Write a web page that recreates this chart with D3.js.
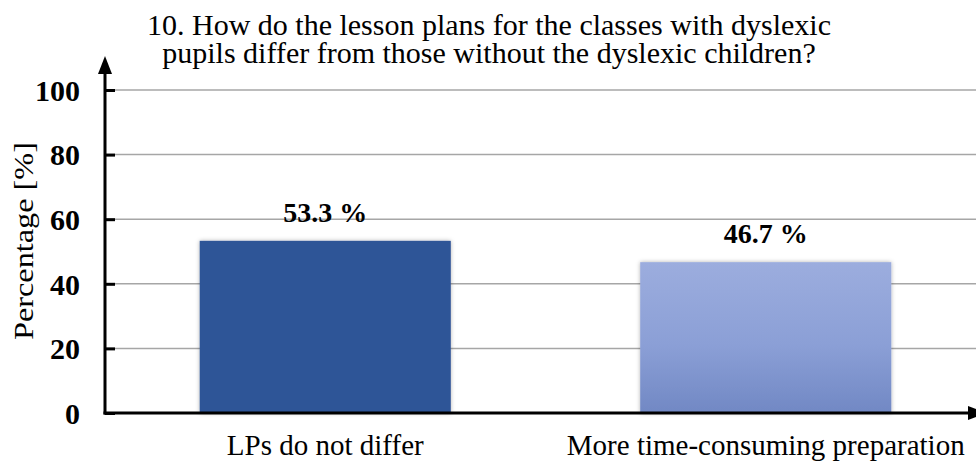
<!DOCTYPE html>
<html lang="en">
<head>
<meta charset="UTF-8">
<title>Lesson plans</title>
<script src="https://d3js.org/d3.v7.min.js"></script>
<style>
    body { margin: 0; background: #fff; }
    text { font-family: "Liberation Serif", "Times New Roman", serif; fill: #000; }
</style>
</head>
<body>
<svg id="chart" width="976" height="461"></svg>
<script>
const categories = ["LPs do not differ", "More time-consuming preparation"];
const values = [53.3, 46.7];
const valueLabels = ["53.3 %", "46.7 %"];
const yTicks = [0, 20, 40, 60, 80, 100];
const titleLines = ["10. How do the lesson plans for the classes with dyslexic",
                    "pupils differ from those without the dyslexic children?"];

const svg = d3.select('#chart');
const plotLeft = 105, plotRight = 986, plotTop = 90, plotBottom = 413;

const x = d3.scaleBand().domain(categories).range([plotLeft, plotRight])
    .paddingInner(0.43).paddingOuter(0.215);
const y = d3.scaleLinear().domain([0, 100]).range([plotBottom, plotTop]);

const defs = svg.append('defs');
const grad = defs.append('linearGradient').attr('id', 'lightBar')
    .attr('x1', 0).attr('y1', 0).attr('x2', 0).attr('y2', 1);
grad.append('stop').attr('offset', '0%').attr('stop-color', '#9cadde');
grad.append('stop').attr('offset', '55%').attr('stop-color', '#8b9fd6');
grad.append('stop').attr('offset', '100%').attr('stop-color', '#7188c4');
const sh = defs.append('filter').attr('id', 'shadow')
    .attr('x', '-10%').attr('y', '-10%').attr('width', '120%').attr('height', '120%');
sh.append('feDropShadow').attr('dx', 0).attr('dy', 0).attr('stdDeviation', 2)
    .attr('flood-color', '#000').attr('flood-opacity', 0.3);

// title, two lines
svg.append('g').selectAll('text').data(titleLines).enter().append('text')
    .attr('x', 489).attr('y', (d, i) => 35 + i * 28)
    .attr('text-anchor', 'middle')
    .style('font-size', '30px')
    .text(d => d);

// grid
svg.append('g').selectAll('line').data(yTicks.filter(t => t > 0)).enter().append('line')
    .attr('x1', plotLeft).attr('x2', 976)
    .attr('y1', d => y(d)).attr('y2', d => y(d))
    .attr('stroke', '#a6a6a6').attr('stroke-width', 1.5);

// bars
svg.append('g').selectAll('rect').data(categories).enter().append('rect')
    .attr('x', d => x(d))
    .attr('y', (d, i) => y(values[i]))
    .attr('width', x.bandwidth())
    .attr('height', (d, i) => plotBottom - y(values[i]))
    .attr('fill', (d, i) => i === 0 ? '#2f5597' : 'url(#lightBar)')
    .attr('filter', 'url(#shadow)');

// value labels
svg.append('g').selectAll('text').data(categories).enter().append('text')
    .attr('x', d => x(d) + x.bandwidth() / 2)
    .attr('y', (d, i) => y(values[i]) - 19)
    .attr('text-anchor', 'middle')
    .style('font-size', '28px').style('font-weight', 'bold')
    .text((d, i) => valueLabels[i]);

// y axis
const yAxis = d3.axisLeft(y).tickValues(yTicks).tickSize(-10).tickPadding(25)
    .tickFormat(d3.format('d'));
const yg = svg.append('g').attr('transform', `translate(${plotLeft},0)`).call(yAxis);
yg.select('.domain').remove();
yg.selectAll('.tick line').attr('stroke', '#000').attr('stroke-width', 3);
yg.selectAll('.tick text')
    .style('font-size', '30px').style('font-weight', 'bold')
    .style('font-family', '"Liberation Serif", serif')
    .attr('dy', '0.34em');

svg.append('line').attr('x1', plotLeft).attr('x2', plotLeft).attr('y1', plotBottom + 1.5).attr('y2', 70)
    .attr('stroke', '#000').attr('stroke-width', 3);
svg.append('path').attr('d', `M${plotLeft - 7},${74} L${plotLeft},${56} L${plotLeft + 7},${74} Z`).attr('fill', '#000');

// x axis
const xAxis = d3.axisBottom(x).tickSize(0).tickPadding(0);
const xg = svg.append('g').attr('transform', `translate(0,${plotBottom})`).call(xAxis);
xg.select('.domain').remove();
xg.selectAll('.tick text')
    .style('font-size', '29px')
    .style('font-family', '"Liberation Serif", serif')
    .attr('y', 42).attr('dy', 0);

svg.append('line').attr('x1', plotLeft - 1.5).attr('x2', 972).attr('y1', plotBottom).attr('y2', plotBottom)
    .attr('stroke', '#000').attr('stroke-width', 3);
svg.append('path').attr('d', `M${968},${plotBottom - 7} L${986},${plotBottom} L${968},${plotBottom + 7} Z`).attr('fill', '#000');

// y label
svg.append('text')
    .attr('transform', `translate(33,241) rotate(-90)`)
    .attr('text-anchor', 'middle')
    .attr('textLength', 198).attr('lengthAdjust', 'spacingAndGlyphs')
    .style('font-size', '28px')
    .text('Percentage [%]');
</script>
</body>
</html>
